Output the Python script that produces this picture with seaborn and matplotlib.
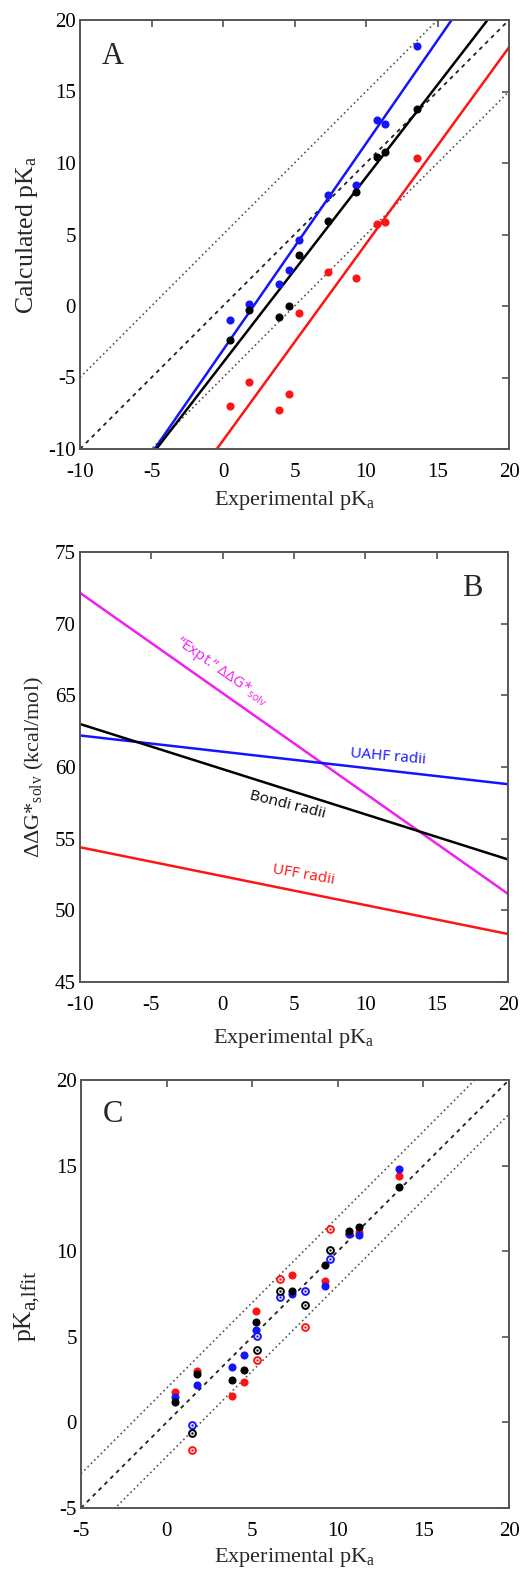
import numpy as np
import pandas as pd
import matplotlib
matplotlib.use("Agg")
import matplotlib.pyplot as plt
import seaborn as sns

# ---------------- Panel A data ----------------
exp_pka = [0.5, 1.85, 3.9, 4.6, 5.3, 7.35, 9.3, 10.75, 11.3, 13.6]
calc_uahf = [-1.0, 0.15, 1.55, 2.55, 4.65, 7.75, 8.45, 13.0, 12.7, 18.2]
calc_bondi = [-2.4, -0.25, -0.8, 0.0, 3.55, 5.95, 7.95, 10.45, 10.8, 13.8]
calc_uff = [-7.0, -5.3, -7.3, -6.15, -0.5, 2.4, 1.95, 5.75, 5.85, 10.35]

# ---------------- Panel B data ----------------
b_pka = [-10, 20]
b_expt = [72.15, 51.15]
b_uahf = [62.2, 58.8]
b_bondi = [63.0, 53.55]
b_uff = [54.4, 48.35]

# ---------------- Panel C data ----------------
c_pka = [0.47, 1.8, 3.8, 4.55, 5.2, 7.3, 9.25, 10.65, 11.25, 13.6]
c_uahf = [1.46, 2.21, 3.24, 3.93, 5.38, 7.51, 7.98, 11.0, 10.95, 14.78]
c_bondi = [1.21, 2.85, 2.45, 3.04, 5.85, 7.67, 9.21, 11.19, 11.44, 13.75]
c_uff = [1.80, 2.98, 1.52, 2.35, 6.50, 8.62, 8.26, 11.03, 11.1, 14.39]
c_open_pka = [1.5, 5.3, 6.65, 8.1, 9.55]
c_open_uahf = [-0.16, 5.02, 7.35, 7.65, 9.53]
c_open_bondi = [-0.61, 4.23, 7.65, 6.88, 10.06]
c_open_uff = [-1.60, 3.64, 8.38, 5.55, 11.28]

ref_offsets_a = [5, 0, -5]
ref_offsets_c = [2, 0, -2]
ticks_a = [-10, -5, 0, 5, 10, 15, 20]
ticks_b_y = [45, 50, 55, 60, 65, 70, 75]
ticks_c = [-5, 0, 5, 10, 15, 20]

BLUE = "#1414ff"
RED = "#ff1414"
BLACK = "#000000"
MAGENTA = "#f020f0"

sns.set_style("white")
plt.rcParams["font.family"] = ["Liberation Serif", "DejaVu Serif"]
plt.rcParams["mathtext.fontset"] = "custom"
plt.rcParams["mathtext.rm"] = "Liberation Serif"
plt.rcParams["mathtext.it"] = "Liberation Serif:italic"
plt.rcParams["axes.unicode_minus"] = False

W, H = 524, 1572
fig = plt.figure(figsize=(W / 100, H / 100), dpi=100)


def make_ax(left, top, right, bottom):
    return fig.add_axes([left / W, 1 - bottom / H, (right - left) / W, (bottom - top) / H])


def style_ax(ax, xticks, yticks):
    ax.set_xticks(xticks)
    ax.set_yticks(yticks)
    for s in ax.spines.values():
        s.set_visible(True)
        s.set_color("#555555")
        s.set_linewidth(1.4)
    ax.tick_params(direction="in", length=5, width=1.1, top=True, right=True,
                   colors="#444444", labelcolor="black", labelsize=15)
    ax.tick_params(axis="x", pad=10)
    ax.tick_params(axis="y", pad=3)
    ax.grid(False)


def ref_lines(ax, lo, hi, offsets):
    xs = np.array([lo, hi], dtype=float)
    for off in offsets:
        if off == 0:
            ax.plot(xs, xs + off, color="#222222", lw=1.3, ls=(0, (2.2, 2.4)), zorder=1)
        else:
            ax.plot(xs, xs + off, color="#555555", lw=1.2, ls=(0, (1.0, 1.8)), zorder=1)


xl = r"Experimental pK$_{\mathregular{a}}$"

# ---------------- Panel A ----------------
axA = make_ax(80, 20, 509, 449)
axA.set_xlim(-10, 20)
axA.set_ylim(-10, 20)
ref_lines(axA, -10, 20, ref_offsets_a)
for ys, col in [(calc_uahf, BLUE), (calc_bondi, BLACK), (calc_uff, RED)]:
    sns.regplot(x=exp_pka, y=ys, ax=axA, scatter=False, ci=None, truncate=False,
                color=col, line_kws=dict(lw=1.8, zorder=2))
for ys, col in [(calc_uahf, BLUE), (calc_bondi, BLACK), (calc_uff, RED)]:
    sns.scatterplot(x=exp_pka, y=ys, ax=axA, color=col, s=34, linewidth=0, zorder=3)
axA.set_xlim(-10, 20)
axA.set_ylim(-10, 20)
style_ax(axA, ticks_a, ticks_a)
axA.set_xlabel(xl, fontsize=16, labelpad=5)
axA.set_ylabel(r"Calculated pK$_{\mathregular{a}}$", fontsize=18.5, labelpad=6)
axA.text(0.077, 0.897, "A", transform=axA.transAxes, fontsize=22, ha="center", va="baseline")

# ---------------- Panel B ----------------
axB = make_ax(80, 552, 508, 982)
dfB = pd.DataFrame({"pka": b_pka * 4,
                    "dg": b_expt + b_uahf + b_bondi + b_uff,
                    "set": ["expt"] * 2 + ["uahf"] * 2 + ["bondi"] * 2 + ["uff"] * 2})
sns.lineplot(data=dfB, x="pka", y="dg", hue="set", ax=axB, legend=False,
             palette={"expt": MAGENTA, "uahf": BLUE, "bondi": BLACK, "uff": RED}, lw=1.8)
axB.set_xlim(-10, 20)
axB.set_ylim(45, 75)
style_ax(axB, ticks_a, ticks_b_y)
axB.set_xlabel(xl, fontsize=16, labelpad=9)
axB.set_ylabel(r"ΔΔG*$_{\mathregular{solv}}$ (kcal/mol)", fontsize=16, labelpad=6)
axB.text(0.917, 0.898, "B", transform=axB.transAxes, fontsize=22, ha="center", va="baseline")
sans = ["Open Sans", "DejaVu Sans"]
axB.text(-0.05, 66.7, r"“Expt.” ΔΔG*$_{\mathregular{solv}}$", color=MAGENTA, rotation=-35,
         rotation_mode="anchor", ha="center", va="center", fontsize=11, family=sans)
axB.text(11.57, 60.72, "UAHF radii", color=BLUE, rotation=-5, rotation_mode="anchor",
         ha="center", va="center", fontsize=11, family=sans)
axB.text(4.53, 57.35, "Bondi radii", color=BLACK, rotation=-14, rotation_mode="anchor",
         ha="center", va="center", fontsize=11, family=sans)
axB.text(5.70, 52.47, "UFF radii", color=RED, rotation=-10, rotation_mode="anchor",
         ha="center", va="center", fontsize=11, family=sans)

# ---------------- Panel C ----------------
axC = make_ax(81, 1080, 509, 1508)
axC.set_xlim(-5, 20)
axC.set_ylim(-5, 20)
ref_lines(axC, -5, 20, ref_offsets_c)
for ys, col in [(c_uff, RED), (c_uahf, BLUE), (c_bondi, BLACK)]:
    sns.scatterplot(x=c_pka, y=ys, ax=axC, color=col, s=34, linewidth=0, zorder=3)
for ys, col in [(c_open_uff, RED), (c_open_uahf, BLUE), (c_open_bondi, BLACK)]:
    sns.scatterplot(x=c_open_pka, y=ys, ax=axC, facecolor="white", edgecolor=col,
                    s=24, linewidth=1.4, zorder=4)
    sns.scatterplot(x=c_open_pka, y=ys, ax=axC, color=col, s=3, linewidth=0, zorder=5)
axC.set_xlim(-5, 20)
axC.set_ylim(-5, 20)
style_ax(axC, ticks_c, ticks_c)
axC.set_xlabel(xl, fontsize=16, labelpad=4)
axC.set_ylabel("")
axC.text(-0.131, 0.39, "pK", transform=axC.transAxes, rotation=90, fontsize=18.5,
         ha="center", va="bottom")
axC.text(-0.116, 0.462, "a,lfit", transform=axC.transAxes, rotation=90, fontsize=15,
         ha="center", va="bottom")
axC.text(0.075, 0.903, "C", transform=axC.transAxes, fontsize=22, ha="center", va="baseline")

fig.savefig("out.png", dpi=100)
